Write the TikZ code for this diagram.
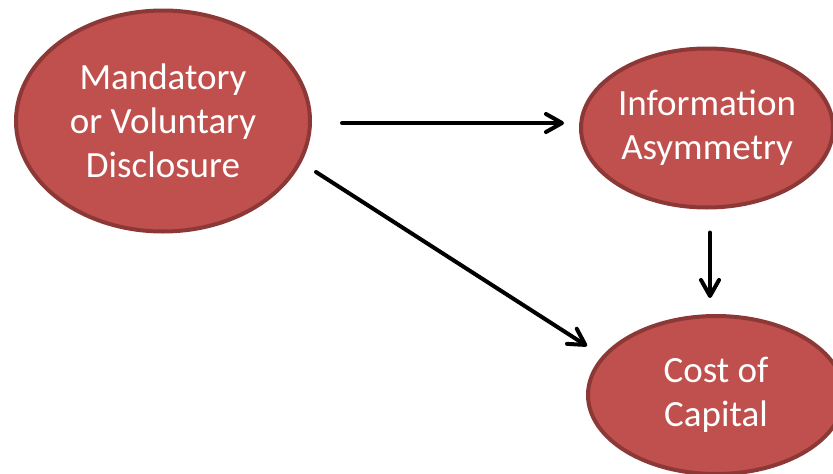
\documentclass[tikz,border=0pt]{standalone}
\usepackage{fontspec}
\setmainfont{Carlito}
\usetikzlibrary{shapes.geometric, arrows.meta}
\definecolor{ovalfill}{HTML}{C0504D}
\definecolor{ovalline}{HTML}{8C3836}
\begin{document}
\begin{tikzpicture}[x=1pt, y=-1pt,
        oval/.style={ellipse, draw=ovalline, fill=ovalfill, line width=4pt, inner sep=0pt,
            text=white, align=center, font=\fontsize{37}{44}\selectfont},
        link/.style={draw=black, line width=4pt, line cap=round,
            -{Straight Barb[length=16pt, width=18pt, line cap=round, line join=round]}}]
            \clip (0,0) rectangle (833,474);
            \node [oval, minimum width=294pt, minimum height=221pt] (disc) at (163,121) {Mandatory\\or Voluntary\\Disclosure};
            \node [oval, minimum width=252pt, minimum height=159pt] (info) at (707,128) {Information\\Asymmetry};
            \node [oval, minimum width=256pt, minimum height=158pt] (cost) at (716,395) {Cost of\\Capital};
            \path [draw] ([shift={(30,2)}]disc.east) edge [link] ([shift={(-15,-5)}]info.west);
            \path [draw] ([shift={(153,51)}]disc.center) edge [link] ([shift={(-129,-49)}]cost.center);
            \path [draw] ([shift={(3,23)}]info.south) edge [link] ([shift={(-6,-16)}]cost.north);
        \end{tikzpicture}
\end{document}
